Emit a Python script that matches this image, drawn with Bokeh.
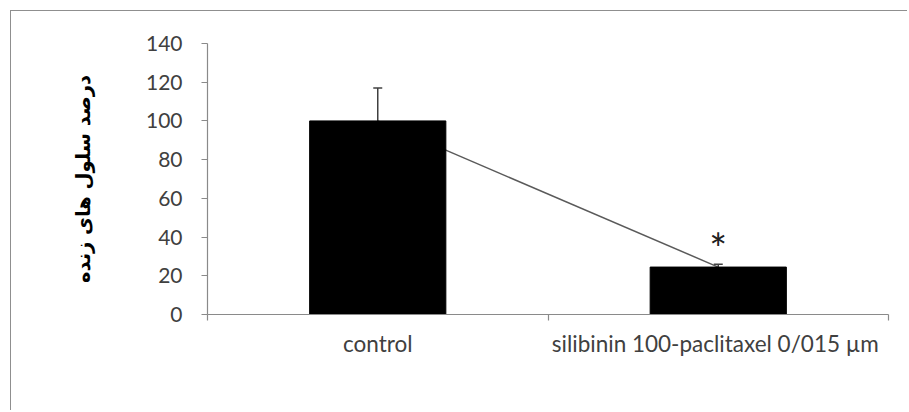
from bokeh.plotting import figure
from bokeh.models import Range1d, FixedTicker, Whisker, ColumnDataSource, LinearAxis, TeeHead
from bokeh.core.properties import value
from bokeh.embed import file_html
from bokeh.resources import INLINE

categories = ["control", "silibinin 100-paclitaxel  0/015 µm"]
means = [100, 24.5]
errors = [17, 1.5]
sig_marks = ["", "*"]
y_ticks = [0, 20, 40, 60, 80, 100, 120, 140]
y_label = "درصد سلول های زنده"

xs = [i + 0.5 for i in range(len(categories))]
bounds = [float(i) for i in range(len(categories) + 1)]
uppers = [m + e for m, e in zip(means, errors)]
src = ColumnDataSource(dict(x=xs, top=means, upper=uppers, sig=sig_marks))

TXT = "#404040"
AX = "#8a8a8a"

p = figure(width=897, height=400,
           x_range=Range1d(0, len(categories)), y_range=Range1d(y_ticks[0], y_ticks[-1]),
           output_backend="svg", toolbar_location=None, x_axis_location=None,
           min_border_left=196, min_border_right=20, min_border_top=32, min_border_bottom=97,
           background_fill_color="white", border_fill_color="white")
p.outline_line_color = None
p.grid.visible = False
p.styles = {"margin-left": "10px", "margin-top": "10px",
            "border-left": "1px solid #8f8f8f", "border-top": "1px solid #8f8f8f"}

xa = LinearAxis(ticker=FixedTicker(ticks=xs, minor_ticks=bounds))
xa.major_label_overrides = {x: c for x, c in zip(xs, categories)}
xa.major_tick_line_color = None
xa.major_tick_out = 0
xa.major_tick_in = 0
xa.minor_tick_out = 6
xa.minor_tick_in = 0
xa.minor_tick_line_color = AX
xa.minor_tick_line_width = 1.2
xa.axis_line_color = AX
xa.axis_line_width = 1.2
xa.major_label_text_font = "Lato"
xa.major_label_text_font_size = "22.5px"
xa.major_label_text_color = TXT
xa.major_label_standoff = 9
p.add_layout(xa, "below")

ya = p.yaxis[0]
ya.ticker = FixedTicker(ticks=y_ticks)
ya.minor_tick_line_color = None
ya.major_tick_out = 6
ya.major_tick_in = 0
ya.major_tick_line_color = AX
ya.major_tick_line_width = 1.2
ya.axis_line_color = AX
ya.axis_line_width = 1.2
ya.major_label_text_font = "Lato"
ya.major_label_text_font_size = "21px"
ya.major_label_text_color = TXT
ya.major_label_standoff = 19
ya.axis_label = y_label
ya.axis_label_text_font = "DejaVu Sans"
ya.axis_label_text_font_style = "bold"
ya.axis_label_text_font_size = "19.5px"
ya.axis_label_text_color = "#000000"
ya.axis_label_standoff = 48

p.line(x="x", y="top", source=src, line_color="#5a5a5a", line_width=1.5)
p.vbar(x="x", top="top", bottom=0, width=0.4, source=src, fill_color="black", line_color="black")
p.add_layout(Whisker(source=src, base="x", upper="upper", lower="top",
                     line_color="#404040", line_width=1.5,
                     upper_head=TeeHead(size=9, line_color="#404040", line_width=1.5),
                     lower_head=None))
p.text(x="x", y="upper", text="sig", source=src, text_font=value("Lato"),
       text_font_size="42px", text_align="center", text_baseline="bottom",
       text_color="#202020", y_offset=9)

open("out.html", "w").write(file_html(p, INLINE))
